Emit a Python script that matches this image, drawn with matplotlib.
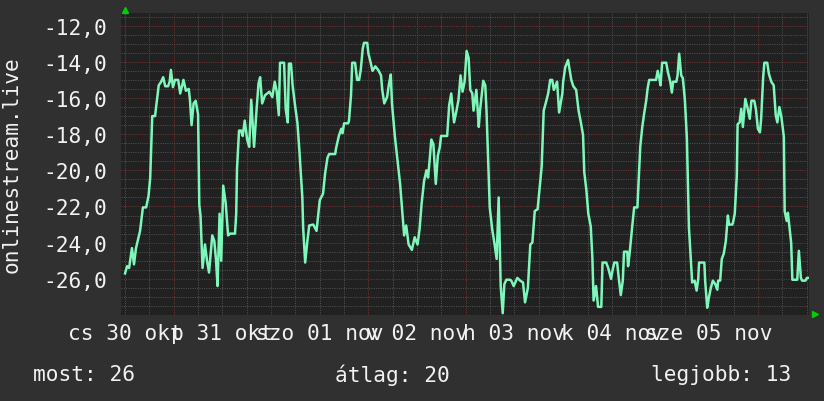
import matplotlib
matplotlib.use("Agg")
import matplotlib.pyplot as plt

# hours since the start (cs 30 okt 00:00) and the measured value
hours = [
    0.0, 0.5, 1.0, 1.7, 2.2, 2.7, 3.7, 4.4, 5.2, 5.8, 6.2, 6.7, 7.4, 7.6, 8.3, 8.9,
    9.4, 9.9, 10.6, 11.0, 11.3, 11.8, 12.3, 13.1, 13.6, 14.4, 15.0, 15.7, 16.0, 16.4,
    16.9, 17.4, 18.0, 18.3, 18.6, 19.1, 19.7, 20.2, 20.7, 21.5, 22.0, 22.4, 22.8, 23.3,
    23.7, 24.2, 24.8, 25.4, 25.9, 27.1, 27.4, 27.6, 28.1, 28.6, 29.0, 29.5, 30.1, 30.6,
    31.1, 31.8, 32.4, 32.9, 33.3, 33.8, 34.5, 35.6, 36.3, 36.9, 37.4, 37.9, 38.2, 39.2,
    39.6, 40.1, 40.4, 40.9, 41.3, 41.9, 42.5, 43.0, 43.7, 43.9, 44.4, 44.9, 45.4, 46.4,
    47.2, 48.0, 48.8, 49.3, 49.9, 50.3, 51.8, 52.0, 52.7, 53.3, 53.6, 54.0, 55.0, 55.2,
    55.7, 56.0, 56.7, 57.2, 57.7, 58.1, 58.6, 58.9, 59.7, 60.0, 60.5, 61.0, 61.7, 62.4,
    63.1, 63.4, 63.9, 64.6, 65.0, 65.5, 65.8, 66.5, 67.1, 67.8, 68.4, 68.8, 69.3, 69.9,
    70.7, 71.4, 72.1, 72.6, 73.1, 73.7, 74.3, 74.7, 75.0, 75.5, 76.0, 76.6, 77.1, 77.6,
    77.9, 79.4, 79.9, 80.4, 81.1, 81.7, 82.2, 82.7, 83.2, 83.7, 84.2, 84.7, 85.1, 85.6,
    85.9, 86.6, 87.2, 87.5, 88.3, 88.8, 89.1, 89.5, 89.9, 90.5, 91.1, 91.6, 92.1, 92.6,
    93.1, 93.5, 94.0, 94.9, 95.2, 95.8, 96.7, 97.4, 98.1, 98.6, 99.3, 99.9, 100.4, 101.0,
    101.7, 102.1, 102.7, 103.2, 103.8, 104.3, 104.8, 105.3, 105.7, 106.5, 107.0, 107.8,
    108.0, 108.5, 109.2, 110.0, 110.5, 111.2, 111.8, 112.4, 112.9, 113.2, 113.7, 114.2,
    114.8, 115.2, 115.5, 116.1, 116.6, 117.4, 117.7, 118.6, 119.1, 119.8, 120.2, 120.6,
    121.3, 121.7, 122.2, 122.7, 123.0, 123.8, 124.0, 124.4, 125.0, 125.5, 126.3, 126.6,
    127.0, 127.5, 128.0, 128.5, 128.8, 129.2, 130.9, 131.3, 131.7, 132.0, 132.4, 133.4,
    133.8, 134.4, 134.8, 135.1, 135.9, 136.2, 136.6, 137.1, 137.5, 138.0, 138.5, 139.0,
    139.3, 139.8, 140.4, 140.9, 141.3, 141.5, 142.8, 143.0, 143.5, 143.9, 144.4, 144.9,
    145.5, 146.0, 146.2, 146.7, 147.1, 147.6, 148.1, 148.6, 148.9, 149.7, 149.9, 150.3,
    150.8, 151.0, 151.5, 151.9, 152.3, 152.9, 153.5, 154.0, 154.4, 155.1, 155.5, 156.0,
    156.5, 156.8, 157.3, 157.6, 158.3, 158.7, 159.3, 159.9, 160.4, 160.8, 161.3, 161.8,
    162.4, 162.6, 163.1, 163.4, 163.9, 164.2, 164.5, 165.7, 166.1, 166.6, 166.9, 167.7,
    168.1, 168.6,
]
values = [
    -25.7, -25.3, -25.4, -24.3, -25.2, -24.3, -23.35, -22.05, -22.05, -21.4, -20.4, -17.0,
    -17.0, -16.6, -15.3, -15.1, -14.85, -15.35, -15.35, -15.1, -14.45, -15.4, -15.0, -15.0,
    -15.75, -15.0, -15.6, -15.5, -16.1, -17.5, -16.3, -16.15, -16.9, -21.9, -22.5, -25.4,
    -24.1, -25.0, -25.65, -23.6, -23.9, -24.9, -26.4, -22.4, -25.0, -20.85, -21.8, -23.6,
    -23.5, -23.5, -22.4, -19.9, -17.8, -17.8, -18.1, -17.25, -18.3, -18.7, -16.1, -18.7,
    -16.7, -15.2, -14.85, -16.3, -15.85, -15.65, -15.95, -15.1, -15.65, -16.95, -14.05, -14.05,
    -16.6, -17.35, -14.1, -14.1, -15.3, -16.4, -17.4, -19.0, -21.5, -23.15, -25.1, -24.0,
    -23.05, -23.0, -23.35, -21.65, -21.3, -20.2, -19.3, -19.1, -19.1, -18.8, -18.1, -17.7,
    -17.95, -17.4, -17.4, -17.25, -15.85, -14.05, -14.05, -15.0, -15.0, -14.45, -13.25, -12.95,
    -12.95, -13.55, -14.0, -14.5, -14.25, -14.45, -14.75, -15.55, -16.3, -15.95, -15.3, -14.7,
    -16.3, -18.1, -19.3, -20.75, -22.5, -23.6, -23.05, -24.1, -24.4, -23.7, -24.1, -23.25,
    -21.85, -20.6, -20.0, -20.4, -19.65, -18.3, -18.55, -20.75, -19.2, -18.7, -18.1, -18.1,
    -16.4, -15.75, -17.35, -16.7, -16.1, -14.75, -15.65, -15.1, -13.4, -13.8, -15.55, -15.75,
    -16.7, -15.55, -17.6, -16.7, -15.05, -15.3, -16.7, -19.3, -22.05, -23.25, -24.1, -24.9,
    -21.5, -26.4, -27.9, -26.3, -26.05, -26.05, -26.1, -26.4, -25.95, -26.1, -26.2, -27.3,
    -26.5, -24.1, -24.0, -22.25, -22.15, -21.2, -19.8, -16.7, -16.2, -15.75, -15.0, -15.0,
    -15.55, -15.1, -16.8, -15.75, -15.1, -14.3, -13.9, -15.0, -15.35, -15.55, -16.7, -17.4,
    -18.05, -20.1, -21.05, -22.4, -23.1, -24.85, -27.2, -26.4, -27.55, -27.55, -25.1, -25.1,
    -25.4, -26.0, -25.5, -25.1, -25.1, -25.95, -26.9, -26.1, -24.5, -24.5, -25.3, -24.55,
    -23.15, -22.05, -22.05, -20.65, -18.7, -17.6, -16.8, -16.1, -15.5, -15.0, -15.0, -14.5,
    -14.9, -15.3, -14.05, -14.05, -14.55, -15.1, -15.7, -15.1, -15.1, -14.75, -13.55, -14.75,
    -14.9, -16.1, -18.25, -23.15, -24.3, -26.2, -26.1, -26.65, -26.0, -25.1, -25.1, -26.1,
    -27.6, -27.05, -26.5, -26.1, -26.3, -26.6, -26.1, -26.1, -24.9, -24.6, -23.9, -22.5,
    -23.0, -23.0, -22.85, -22.4, -20.3, -17.45, -17.35, -16.6, -17.6, -16.05, -16.6, -17.15,
    -16.15, -16.15, -16.6, -17.7, -17.9, -17.15, -14.85, -14.05, -14.05, -14.65, -15.1, -15.3,
    -16.95, -17.35, -16.5, -17.05, -18.15, -22.25, -22.8, -22.35, -23.35, -24.0, -26.05, -26.05,
    -24.45, -25.95, -26.1, -26.1, -25.95, -25.95,
]

day_labels = ["cs 30 okt", "p 31 okt", "szo 01 nov", "v 02 nov",
              "h 03 nov", "k 04 nov", "sze 05 nov"]
y_ticks = [-26, -24, -22, -20, -18, -16, -14, -12]
legend = ["most: 26", "átlag: 20", "legjobb: 13"]

BG = "#303030"
PLOT_BG = "#212121"
TXT = "#f2f2f2"
MINOR = "#505050"
MAJOR = "#6e3434"
LINE = "#7ef7bb"
ARROW = "#00d000"
FONT = "DejaVu Sans Mono"
FS = 15.2

fig = plt.figure(figsize=(8.24, 4.02), dpi=100, facecolor=BG)
ax = fig.add_axes([121 / 824, 1 - 316 / 402, 688 / 824, 302 / 402])
ax.set_facecolor(PLOT_BG)
for s in ax.spines.values():
    s.set_visible(False)

xmin, xmax = -1.0, 168.6
ymin, ymax = -28.0, -11.3
ax.set_xlim(xmin, xmax)
ax.set_ylim(ymin, ymax)

dots = dict(linewidth=0.75, linestyle=(0, (1, 1.2)), zorder=1)
# horizontal grid: every 0.5, red every 2
y = -28.0
while y <= ymax:
    col = MAJOR if abs(y / 2 - round(y / 2)) < 1e-6 else MINOR
    ax.axhline(y, color=col, **dots)
    y += 0.5
# vertical grid: every 6 h, red at midday
h = 0
while h <= xmax:
    col = MAJOR if h % 24 == 12 else MINOR
    ax.axvline(h, color=col, **dots)
    h += 6

ax.plot(hours, values, color=LINE, linewidth=1.8, zorder=3)

ax.set_yticks(y_ticks)
ax.set_yticklabels([f"{v:.1f}".replace(".", ",") for v in y_ticks])
ax.set_xticks([24 * i for i in range(len(day_labels))])
ax.set_xticklabels(day_labels)
ax.tick_params(axis="both", length=0, colors=TXT, labelsize=FS)
ax.tick_params(axis="y", pad=10)
ax.tick_params(axis="x", pad=6)
for lab in ax.get_xticklabels() + ax.get_yticklabels():
    lab.set_family(FONT)

# arrows at the axis ends
ax.plot([0], [1.011], marker="^", color=ARROW, markersize=4, clip_on=False,
        transform=ax.get_xaxis_transform(), zorder=5)
ax.plot([1.0087], [0.004], marker=">", color=ARROW, markersize=4, clip_on=False,
        transform=ax.transAxes, zorder=5)

fig.text(12 / 824, 1 - 165 / 402, "onlinestream.live", rotation=90, color=TXT,
         family=FONT, fontsize=FS, ha="center", va="center")

fig.text(33 / 824, 1 - 375 / 402, legend[0], color=TXT, family=FONT,
         fontsize=FS, ha="left", va="center")
fig.text(392 / 824, 1 - 375 / 402, legend[1], color=TXT, family=FONT,
         fontsize=FS, ha="center", va="center")
fig.text(791 / 824, 1 - 375 / 402, legend[2], color=TXT, family=FONT,
         fontsize=FS, ha="right", va="center")

fig.savefig("out.png", dpi=100, facecolor=BG)
